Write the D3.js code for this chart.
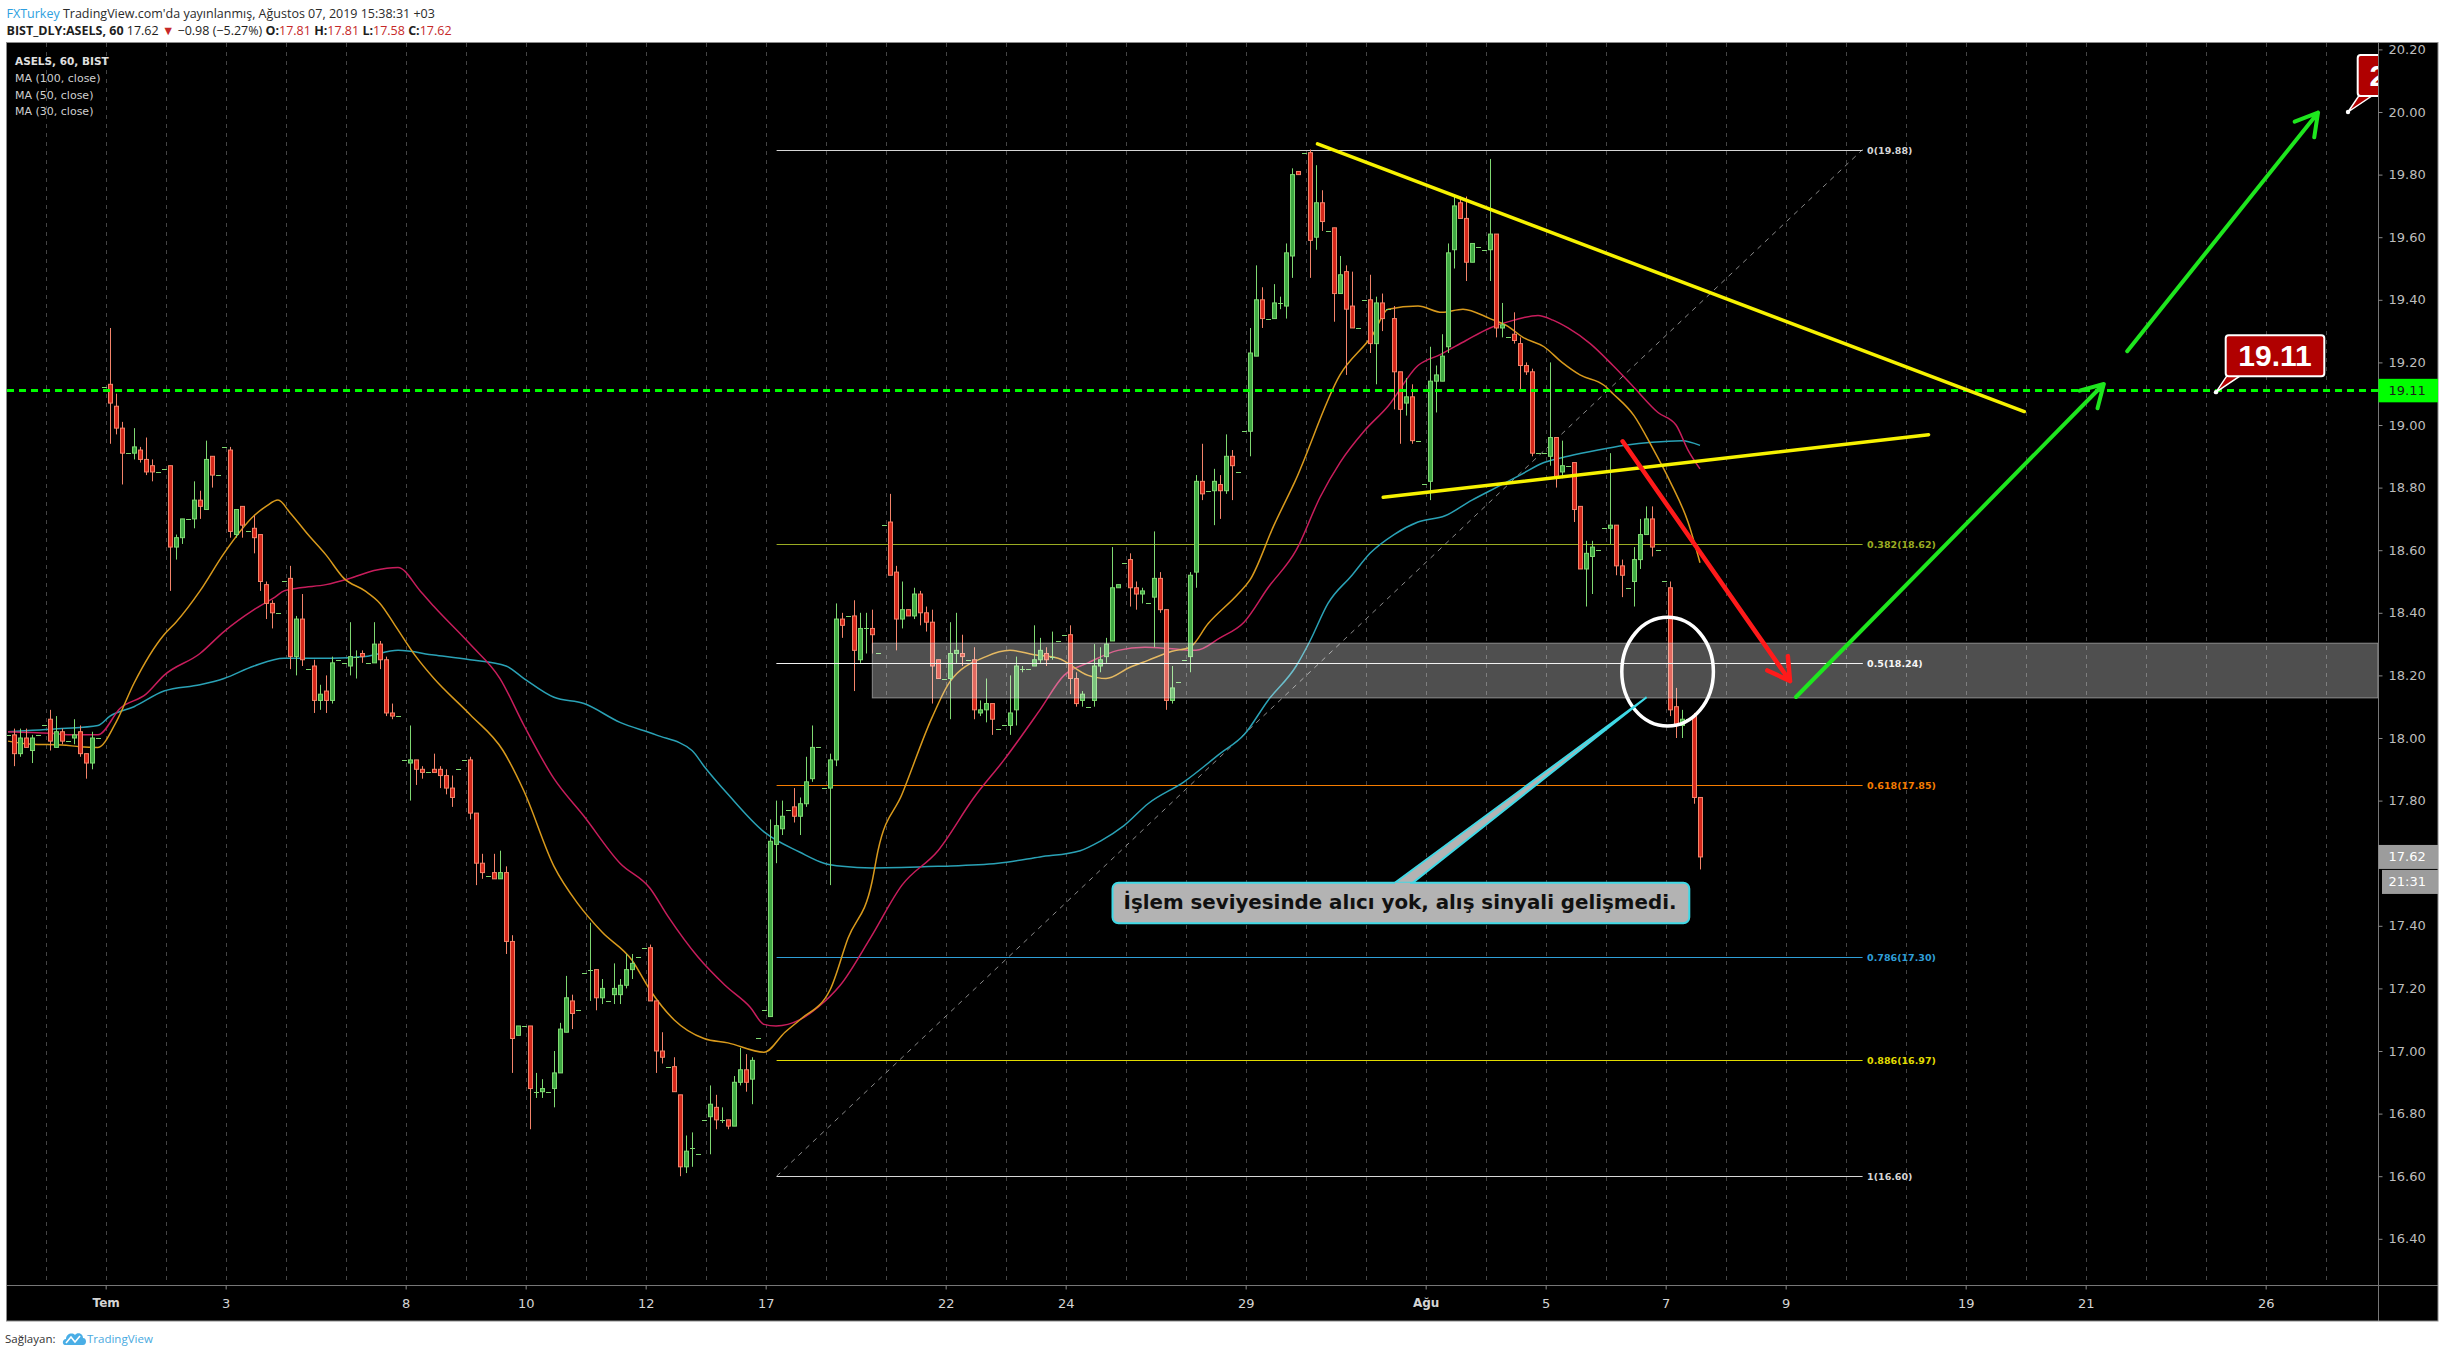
<!DOCTYPE html>
<html>
<head>
<meta charset="utf-8">
<title>ASELS, 60, BIST</title>
<script src="https://cdn.jsdelivr.net/npm/d3@7/dist/d3.min.js"></script>
<style>
  html, body { margin: 0; padding: 0; background: #fff; }
  svg { display: block; }
</style>
</head>
<body>
<svg id="chart" width="2445" height="1358"></svg>
<script>
// ---------------------------------------------------------------
// data (hourly bars, [open, high, low, close])
// ---------------------------------------------------------------
var firstDayBar = -3;     // bar index where the first (partial) day starts
var barsPerDay = 10;

var bars = [
	// Jun 27 (last bars)
	[18.01,18.01,18.01,18.01],[18.01,18.03,17.91,17.95],[17.95,18.03,17.94,18.00],[18.00,18.03,17.97,17.97],[17.96,18.01,17.92,18.00],[18.01,18.01,18.01,18.01],[18.04,18.04,18.04,18.04],
	// Jun 28
	[18.06,18.09,17.96,17.99],[17.97,18.07,17.97,18.02],[18.02,18.03,17.98,17.99],[17.99,17.99,17.99,17.99],[18.00,18.06,17.98,18.01],[18.02,18.04,17.94,17.95],[17.95,17.95,17.87,17.92],[17.92,18.02,17.90,18.00],[18.00,18.00,18.00,18.00],[19.12,19.12,19.12,19.12],
	// Jul 1
	[19.13,19.31,18.94,19.07],[19.06,19.10,18.97,18.99],[18.99,19.01,18.81,18.91],[18.91,18.91,18.91,18.91],[18.91,18.99,18.89,18.93],[18.92,18.93,18.88,18.89],[18.89,18.96,18.84,18.85],[18.87,18.89,18.82,18.85],[18.85,18.85,18.85,18.85],[18.86,18.86,18.86,18.86],
	// Jul 2
	[18.87,18.87,18.47,18.61],[18.61,18.65,18.57,18.64],[18.64,18.70,18.62,18.70],[18.70,18.70,18.70,18.70],[18.70,18.82,18.67,18.76],[18.76,18.79,18.70,18.74],[18.73,18.95,18.73,18.89],[18.90,18.90,18.80,18.84],[18.84,18.84,18.84,18.84],[18.93,18.93,18.93,18.93],
	// Jul 3
	[18.92,18.93,18.64,18.66],[18.65,18.73,18.64,18.73],[18.74,18.74,18.64,18.68],[18.66,18.66,18.66,18.66],[18.67,18.71,18.59,18.64],[18.65,18.65,18.47,18.50],[18.49,18.50,18.38,18.43],[18.43,18.44,18.35,18.40],[18.40,18.40,18.40,18.40],[18.50,18.50,18.50,18.50],
	// Jul 4
	[18.51,18.55,18.22,18.26],[18.26,18.39,18.20,18.38],[18.38,18.46,18.23,18.25],[18.22,18.22,18.22,18.22],[18.23,18.25,18.08,18.12],[18.12,18.17,18.09,18.14],[18.15,18.20,18.08,18.12],[18.12,18.26,18.11,18.24],[18.25,18.25,18.25,18.25],[18.24,18.24,18.24,18.24],
	// Jul 5
	[18.23,18.37,18.20,18.26],[18.26,18.28,18.19,18.26],[18.27,18.28,18.24,18.26],[18.24,18.24,18.24,18.24],[18.24,18.37,18.24,18.30],[18.30,18.31,18.22,18.25],[18.25,18.26,18.07,18.08],[18.08,18.11,18.06,18.07],[18.07,18.07,18.07,18.07],[17.93,17.93,17.93,17.93],
	// Jul 8
	[17.92,18.04,17.80,17.93],[17.93,17.93,17.85,17.90],[17.90,17.91,17.87,17.89],[17.89,17.89,17.89,17.89],[17.90,17.95,17.89,17.89],[17.90,17.91,17.84,17.88],[17.88,17.90,17.82,17.84],[17.84,17.88,17.78,17.81],[17.90,17.90,17.90,17.90],[17.93,17.93,17.93,17.93],
	// Jul 9
	[17.93,17.94,17.74,17.76],[17.76,17.76,17.53,17.60],[17.60,17.63,17.55,17.57],[17.56,17.56,17.56,17.56],[17.57,17.63,17.55,17.55],[17.55,17.64,17.55,17.57],[17.57,17.59,17.31,17.35],[17.35,17.37,16.93,17.04],[17.05,17.08,17.05,17.08],[17.08,17.08,17.08,17.08],
	// Jul 10
	[17.08,17.08,16.75,16.88],[16.87,16.93,16.85,16.87],[16.87,16.91,16.85,16.88],[16.87,16.87,16.87,16.87],[16.88,17.00,16.82,16.93],[16.93,17.09,16.93,17.07],[17.06,17.24,17.06,17.17],[17.16,17.18,17.07,17.12],[17.13,17.13,17.13,17.13],[17.25,17.25,17.25,17.25],
	// Jul 11
	[17.26,17.41,17.16,17.26],[17.26,17.26,17.13,17.17],[17.17,17.23,17.15,17.20],[17.16,17.16,17.16,17.16],[17.18,17.28,17.15,17.20],[17.18,17.23,17.15,17.21],[17.21,17.31,17.20,17.26],[17.26,17.31,17.23,17.28],[17.30,17.30,17.30,17.30],[17.33,17.33,17.33,17.33],
	// Jul 12
	[17.33,17.34,17.16,17.16],[17.16,17.16,16.93,17.00],[17.00,17.06,16.96,16.98],[16.95,16.95,16.95,16.95],[16.95,16.98,16.87,16.87],[16.86,16.86,16.60,16.63],[16.63,16.73,16.61,16.68],[16.69,16.74,16.63,16.69],[16.67,16.67,16.67,16.67],[16.78,16.78,16.78,16.78],
	// Jul 16
	[16.79,16.89,16.67,16.83],[16.82,16.86,16.75,16.78],[16.78,16.82,16.77,16.78],[16.78,16.78,16.75,16.76],[16.76,16.92,16.76,16.90],[16.90,17.01,16.89,16.94],[16.94,16.99,16.87,16.90],[16.91,16.98,16.83,16.97],[17.04,17.04,17.04,17.04],[17.13,17.13,17.13,17.13],
	// Jul 17
	[17.11,17.74,17.11,17.67],[17.66,17.80,17.60,17.72],[17.71,17.80,17.69,17.75],[17.77,17.77,17.77,17.77],[17.78,17.84,17.73,17.75],[17.75,17.81,17.69,17.79],[17.79,17.94,17.78,17.86],[17.87,18.04,17.86,17.97],[17.97,17.97,17.97,17.97],[17.84,17.84,17.84,17.84],
	// Jul 18
	[17.84,17.95,17.53,17.93],[17.93,18.43,17.91,18.38],[18.38,18.40,18.32,18.36],[18.39,18.39,18.39,18.39],[18.39,18.44,18.15,18.28],[18.25,18.40,18.24,18.35],[18.35,18.40,18.27,18.35],[18.35,18.41,18.27,18.33],[18.27,18.27,18.27,18.27],[18.68,18.68,18.68,18.68],
	// Jul 19
	[18.69,18.78,18.52,18.52],[18.53,18.55,18.28,18.38],[18.38,18.50,18.35,18.41],[18.41,18.41,18.39,18.39],[18.39,18.48,18.38,18.46],[18.46,18.47,18.36,18.40],[18.40,18.42,18.34,18.37],[18.37,18.41,18.11,18.23],[18.25,18.25,18.19,18.19],[18.19,18.19,18.19,18.19],
	// Jul 22
	[18.19,18.37,18.06,18.27],[18.27,18.40,18.24,18.28],[18.27,18.33,18.23,18.26],[18.25,18.25,18.25,18.25],[18.25,18.29,18.06,18.09],[18.08,18.12,18.07,18.09],[18.09,18.19,18.05,18.11],[18.11,18.11,18.01,18.06],[18.03,18.03,18.03,18.03],[18.04,18.04,18.04,18.04],
	// Jul 23
	[18.04,18.20,18.01,18.08],[18.09,18.26,18.04,18.23],[18.22,18.23,18.21,18.22],[18.22,18.22,18.22,18.22],[18.23,18.36,18.23,18.25],[18.25,18.32,18.24,18.28],[18.27,18.29,18.23,18.25],[18.26,18.34,18.25,18.26],[18.31,18.31,18.31,18.31],[18.33,18.33,18.33,18.33],
	// Jul 24
	[18.33,18.36,18.14,18.19],[18.19,18.21,18.10,18.11],[18.12,18.15,18.10,18.14],[18.10,18.10,18.10,18.10],[18.12,18.30,18.10,18.23],[18.23,18.29,18.21,18.25],[18.26,18.32,18.24,18.30],[18.31,18.61,18.31,18.48],[18.48,18.49,18.48,18.49],[18.56,18.56,18.56,18.56],
	// Jul 25
	[18.57,18.59,18.42,18.48],[18.48,18.50,18.41,18.46],[18.46,18.48,18.43,18.47],[18.43,18.43,18.43,18.43],[18.45,18.66,18.29,18.51],[18.51,18.53,18.40,18.41],[18.41,18.41,18.09,18.12],[18.12,18.23,18.11,18.16],[18.18,18.18,18.18,18.18],[18.25,18.25,18.25,18.25],
	// Jul 26
	[18.26,18.53,18.21,18.52],[18.53,18.84,18.48,18.82],[18.82,18.94,18.76,18.78],[18.79,18.79,18.79,18.79],[18.79,18.86,18.68,18.82],[18.81,18.84,18.70,18.79],[18.79,18.97,18.78,18.90],[18.90,18.92,18.76,18.87],[18.85,18.85,18.85,18.85],[18.98,18.98,18.98,18.98],
	// Jul 29
	[18.98,19.31,18.90,19.23],[19.22,19.51,19.22,19.40],[19.40,19.44,19.31,19.34],[19.34,19.34,19.34,19.34],[19.34,19.45,19.34,19.39],[19.39,19.41,19.37,19.39],[19.38,19.58,19.34,19.55],[19.54,19.82,19.47,19.80],[19.81,19.81,19.80,19.80],[19.87,19.87,19.87,19.87],
	// Jul 30
	[19.87,19.88,19.47,19.59],[19.60,19.83,19.56,19.71],[19.71,19.75,19.62,19.65],[19.62,19.62,19.62,19.62],[19.63,19.63,19.33,19.42],[19.42,19.54,19.42,19.48],[19.49,19.51,19.16,19.37],[19.38,19.49,19.31,19.31],[19.31,19.31,19.31,19.31],[19.40,19.40,19.40,19.40],
	// Jul 31
	[19.40,19.48,19.23,19.26],[19.26,19.41,19.13,19.39],[19.39,19.42,19.30,19.34],[19.37,19.37,19.37,19.37],[19.34,19.38,19.05,19.17],[19.17,19.17,18.94,19.05],[19.07,19.15,19.03,19.09],[19.09,19.13,18.94,18.95],[18.95,18.95,18.95,18.95],[18.81,18.81,18.81,18.81],
	// Aug 1
	[18.82,19.25,18.76,19.14],[19.14,19.19,19.04,19.16],[19.14,19.29,19.14,19.22],[19.25,19.58,19.23,19.55],[19.56,19.73,19.50,19.70],[19.71,19.73,19.66,19.66],[19.66,19.73,19.46,19.52],[19.52,19.58,19.52,19.58],[19.57,19.57,19.57,19.57],[19.56,19.56,19.56,19.56],
	// Aug 2
	[19.56,19.85,19.46,19.61],[19.61,19.61,19.28,19.31],[19.31,19.39,19.28,19.32],[19.28,19.28,19.28,19.28],[19.29,19.36,19.26,19.27],[19.26,19.28,19.11,19.19],[19.19,19.20,19.16,19.17],[19.17,19.18,18.90,18.91],[18.91,18.91,18.91,18.91],[18.91,18.91,18.91,18.91],
	// Aug 5
	[18.90,19.20,18.87,18.96],[18.96,18.96,18.80,18.83],[18.85,18.95,18.83,18.87],[18.87,18.87,18.87,18.87],[18.88,18.88,18.69,18.73],[18.74,18.74,18.54,18.54],[18.54,18.63,18.42,18.59],[18.58,18.63,18.46,18.61],[18.60,18.60,18.60,18.60],[18.67,18.67,18.67,18.67],
	// Aug 6
	[18.67,18.91,18.62,18.68],[18.68,18.68,18.52,18.55],[18.55,18.57,18.45,18.52],[18.48,18.48,18.48,18.48],[18.50,18.61,18.42,18.57],[18.57,18.70,18.54,18.65],[18.65,18.74,18.65,18.70],[18.70,18.74,18.58,18.61],[18.60,18.60,18.60,18.60],[18.50,18.50,18.50,18.50],
	// Aug 7
	[18.48,18.50,18.07,18.09],[18.10,18.16,18.00,18.04],[18.04,18.09,18.00,18.06],[18.06,18.06,18.06,18.06],[18.07,18.08,17.79,17.81],[17.81,17.81,17.58,17.62]
];

// moving averages: [bar index, value]
var ma100 = [[0,18.02],[9,18.03],[15,18.04],[17,18.07],[21,18.10],[26,18.15],[32,18.17],[36,18.19],[41,18.23],[46,18.255],[54,18.255],[59.5,18.26],[65,18.28],[71,18.265],[77,18.25],[83,18.23],[86,18.19],[91,18.13],[96,18.11],[102,18.05],[108,18.01],[114,17.96],[116,17.91],[120,17.82],[126,17.70],[132,17.635],[136,17.60],[139,17.59],[144,17.585],[155,17.59],[165,17.60],[172,17.62],[178.7,17.64],[182,17.67],[186,17.72],[190,17.79],[196,17.86],[202,17.95],[206,18.01],[210,18.12],[214.7,18.23],[217,18.31],[220,18.43],[224,18.52],[227,18.59],[231,18.65],[235,18.69],[239.5,18.71],[244,18.76],[248,18.80],[252,18.84],[256,18.88],[260,18.90],[265,18.92],[269.5,18.935],[274,18.945],[279,18.95],[282,18.935]];
var ma50 = [[0,18.02],[7,18.015],[11,18.01],[15,18.01],[18.7,18.095],[23,18.14],[26,18.20],[32,18.27],[36,18.34],[41,18.41],[44.5,18.45],[46,18.47],[48.7,18.48],[53,18.49],[57,18.51],[61,18.535],[65,18.545],[68.7,18.47],[71,18.42],[77,18.30],[82,18.19],[86,18.04],[91,17.87],[96,17.75],[102,17.60],[107,17.52],[110,17.43],[115,17.30],[119.5,17.21],[123.7,17.14],[126,17.085],[128,17.08],[132,17.10],[135,17.14],[138.7,17.21],[143.7,17.36],[149,17.53],[155,17.64],[161,17.81],[166,17.93],[172,18.09],[176,18.20],[180,18.24],[185,18.28],[189.5,18.29],[194,18.285],[198,18.28],[202,18.32],[206,18.37],[210,18.48],[214.7,18.60],[218.7,18.77],[222,18.88],[226,18.98],[230,19.06],[235,19.19],[238.7,19.225],[243,19.27],[247,19.31],[251,19.335],[255,19.35],[257.5,19.335],[260,19.31],[263.7,19.26],[267.5,19.19],[271,19.12],[275,19.04],[278,19.00],[280,18.92],[282,18.86]];
var ma30 = [[0,17.99],[4,17.98],[9,17.978],[12,17.972],[15,17.97],[18,18.05],[21,18.175],[26,18.33],[28,18.37],[32,18.47],[36,18.59],[41,18.71],[43,18.74],[45,18.76],[47,18.72],[50,18.65],[53,18.585],[56,18.51],[59.5,18.47],[62,18.43],[64.5,18.36],[68,18.26],[71,18.19],[77,18.075],[82.5,17.96],[86,17.83],[91,17.59],[95,17.47],[99,17.38],[104,17.29],[107,17.195],[111,17.10],[116,17.04],[120,17.026],[126,16.996],[129.5,17.06],[132,17.10],[137,17.195],[140,17.36],[144,17.54],[145,17.64],[149,17.82],[154,18.065],[157,18.18],[163,18.26],[167,18.28],[171,18.266],[175,18.255],[180,18.20],[183,18.19],[187,18.226],[190,18.248],[194,18.277],[197,18.29],[200,18.365],[205,18.46],[207,18.505],[211,18.68],[214.5,18.82],[222,19.16],[227.5,19.29],[230,19.37],[235,19.38],[239,19.36],[242.5,19.37],[247,19.34],[250,19.315],[252.5,19.28],[256,19.25],[259,19.20],[262,19.16],[266,19.127],[267.5,19.10],[271,19.03],[274,18.93],[277,18.82],[280,18.69],[282,18.56]];

// x axis tick labels (bar index of the day start)
var tickBars = [17, 37, 67, 87, 107, 127, 157, 177, 207, 237, 257, 277, 297, 327, 347, 377];
var tickLabels = ["Tem", "3", "8", "10", "12", "17", "22", "24", "29", "Ağu", "5", "7", "9", "19", "21", "26"];
var monthLabels = ["Tem", "Ağu"];

// y axis tick labels
var priceTicks = d3.range(82, 102).map(function (v) { return v / 5; });

// fibonacci retracement
var fibLevels = [0, 0.382, 0.5, 0.618, 0.786, 0.886, 1];
var fibPrices = [19.88, 18.62, 18.24, 17.85, 17.30, 16.97, 16.60];
var fibColors = ["#d6d6d6", "#9aab22", "#f2f2f2", "#f57c00", "#2f9fd8", "#e2dc00", "#d6d6d6"];
var fibSpan = [128.1, 309.1];

// drawings
var resistance = 19.11;
var lastPrice = 17.62;
var zoneBand = [144.05, 18.128, 18.303];
var wedgeUpper = [[218.25, 19.898], [336.05, 19.043]];
var wedgeLower = [[229.2, 18.769], [320.1, 18.969]];
var downArrow = [[269.1, 18.948], [297.0, 18.182]];
var upArrowNear = [[298.0, 18.131], [349.3, 19.131]];
var upArrowFar = [[353.2, 19.236], [385.0, 19.998]];
var circleMark = [276.6, 18.212];
var priceTags = [[368, 19.105, "19.11"], [390, 20.0, "20.00"]];
var noteTip = [273.1, 18.13];
var noteText = "İşlem seviyesinde alıcı yok, alış sinyali gelişmedi.";

// ---------------------------------------------------------------
// layout
// ---------------------------------------------------------------
var frame = {left: 7, right: 2378, top: 43, bottom: 1285, outerRight: 2438, outerBottom: 1321};
var dayShift = -0.72;   // day separator sits a little before the first bar

var x = d3.scaleLinear().domain([0, 1]).range([8, 14]);
var y = d3.scaleLinear().domain([16.4, 20]).range([1238.8, 112]);

var upFill = "#3fa843", upLine = "#7fd972", downFill = "#d6281b", downLine = "#f4846a";

var svg = d3.select("#chart");

// chart background
svg.append("rect")
	.attr("x", frame.left - 1).attr("y", frame.top)
	.attr("width", frame.outerRight - frame.left + 1)
	.attr("height", frame.outerBottom - frame.top)
	.attr("fill", "#000");

svg.append("defs").append("clipPath").attr("id", "plotClip")
	.append("rect")
	.attr("x", frame.left).attr("y", frame.top)
	.attr("width", frame.right - frame.left)
	.attr("height", frame.bottom - frame.top);

var plot = svg.append("g").attr("clip-path", "url(#plotClip)");

// vertical day grid
var gridBars = d3.range(firstDayBar, 400, barsPerDay);
plot.append("g").selectAll("line")
	.data(gridBars)
	.enter().append("line")
	.attr("x1", function (d) { return Math.round(x(d + dayShift)) + 0.5; })
	.attr("x2", function (d) { return Math.round(x(d + dayShift)) + 0.5; })
	.attr("y1", frame.top).attr("y2", frame.bottom)
	.attr("stroke", "#444").attr("stroke-width", 1)
	.attr("stroke-dasharray", "4,5");

// fib trend line + levels
plot.append("line")
	.attr("x1", x(fibSpan[0])).attr("y1", y(fibPrices[6]))
	.attr("x2", x(fibSpan[1])).attr("y2", y(fibPrices[0]))
	.attr("stroke", "#8a8a8a").attr("stroke-width", 1)
	.attr("stroke-dasharray", "5,5");

var fib = plot.append("g");
fibLevels.forEach(function (lvl, i) {
	var yy = Math.round(y(fibPrices[i])) + 0.5;
	fib.append("line")
		.attr("x1", x(fibSpan[0])).attr("x2", x(fibSpan[1]))
		.attr("y1", yy).attr("y2", yy)
		.attr("stroke", fibColors[i]).attr("stroke-width", 1);
	fib.append("text")
		.attr("x", x(fibSpan[1]) + 4.5).attr("y", yy)
		.attr("dy", "0.35em")
		.attr("fill", fibColors[i])
		.style("font", "bold 9.5px 'DejaVu Sans', sans-serif")
		.text(lvl + "(" + fibPrices[i].toFixed(2) + ")");
});

// moving averages
var maLine = d3.line()
	.x(function (d) { return x(d[0]); })
	.y(function (d) { return y(d[1]); })
	.curve(d3.curveMonotoneX);

[[ma100, "#2aa2b6"], [ma50, "#c81d5c"], [ma30, "#d99a1c"]].forEach(function (m) {
	plot.append("path")
		.datum(m[0])
		.attr("d", maLine)
		.attr("fill", "none")
		.attr("stroke", m[1])
		.attr("stroke-width", 1.5);
});

// candles
var candle = plot.append("g").selectAll("g")
	.data(bars)
	.enter().append("g");

candle.append("line")
	.attr("x1", function (d, i) { return x(i) + 0.5; })
	.attr("x2", function (d, i) { return x(i) + 0.5; })
	.attr("y1", function (d) { return y(d[1]); })
	.attr("y2", function (d) { return y(d[2]); })
	.attr("stroke", function (d) { return d[3] >= d[0] ? upLine : downLine; })
	.attr("stroke-width", 1);

candle.append("rect")
	.attr("x", function (d, i) { return d[0] === d[3] ? x(i) - 2 : x(i) - 1.5; })
	.attr("y", function (d) {
		return d[0] === d[3] ? Math.round(y(d[0])) : y(Math.max(d[0], d[3]));
	})
	.attr("width", function (d) { return d[0] === d[3] ? 5 : 4; })
	.attr("height", function (d) {
		return d[0] === d[3] ? 1 : Math.max(1, Math.abs(y(d[0]) - y(d[3])));
	})
	.attr("fill", function (d) {
		if (d[0] === d[3]) return upLine;
		return d[3] > d[0] ? upFill : downFill;
	})
	.attr("stroke", function (d) {
		if (d[0] === d[3]) return "none";
		return d[3] > d[0] ? upLine : downLine;
	})
	.attr("stroke-width", 1);

// grey zone over the candles
plot.append("rect")
	.attr("x", x(zoneBand[0]))
	.attr("y", y(zoneBand[2]))
	.attr("width", frame.right - x(zoneBand[0]))
	.attr("height", y(zoneBand[1]) - y(zoneBand[2]))
	.attr("fill", "rgba(255,255,255,0.31)")
	.attr("stroke", "rgba(210,210,210,0.55)")
	.attr("stroke-width", 1);

// 0.5 level stays bright on top of the zone
plot.append("line")
	.attr("x1", x(fibSpan[0])).attr("x2", x(fibSpan[1]))
	.attr("y1", Math.round(y(fibPrices[2])) + 0.5).attr("y2", Math.round(y(fibPrices[2])) + 0.5)
	.attr("stroke", fibColors[2]).attr("stroke-width", 1);

// resistance line
plot.append("line")
	.attr("x1", frame.left).attr("x2", frame.right)
	.attr("y1", y(resistance)).attr("y2", y(resistance))
	.attr("stroke", "#00ff00").attr("stroke-width", 3)
	.attr("stroke-dasharray", "7,5");

// wedge lines
[wedgeUpper, wedgeLower].forEach(function (seg) {
	plot.append("line")
		.attr("x1", x(seg[0][0])).attr("y1", y(seg[0][1]))
		.attr("x2", x(seg[1][0])).attr("y2", y(seg[1][1]))
		.attr("stroke", "#f7f200").attr("stroke-width", 3.5)
		.attr("stroke-linecap", "round");
});

/**
 * Draws a straight arrow with an open head
 */
function drawArrow(g, seg, color, width) {
	var x0 = x(seg[0][0]), y0 = y(seg[0][1]);
	var x1 = x(seg[1][0]), y1 = y(seg[1][1]);
	var back = Math.atan2(y0 - y1, x0 - x1);
	var len = 25, spread = Math.PI / 6;
	var path = d3.path();
	path.moveTo(x0, y0);
	path.lineTo(x1, y1);
	path.moveTo(x1 + len * Math.cos(back + spread), y1 + len * Math.sin(back + spread));
	path.lineTo(x1, y1);
	path.lineTo(x1 + len * Math.cos(back - spread), y1 + len * Math.sin(back - spread));
	g.append("path")
		.attr("d", path.toString())
		.attr("fill", "none")
		.attr("stroke", color)
		.attr("stroke-width", width)
		.attr("stroke-linecap", "round")
		.attr("stroke-linejoin", "round");
}

drawArrow(plot, downArrow, "#ff1a1a", 4.5);
drawArrow(plot, upArrowNear, "#1ee61e", 4);
drawArrow(plot, upArrowFar, "#1ee61e", 4);

// circle around the breakdown
plot.append("ellipse")
	.attr("cx", x(circleMark[0])).attr("cy", y(circleMark[1]))
	.attr("rx", 45.8).attr("ry", 54.3)
	.attr("fill", "none")
	.attr("stroke", "#fff").attr("stroke-width", 3.5);

// red price tags
priceTags.forEach(function (t) {
	var ax = x(t[0]), ay = y(t[1]);
	var bx = ax + 9.7, by = ay - 57, bw = 98.6, bh = 41;
	var tag = plot.append("g");
	tag.append("path")
		.attr("d", "M" + ax + "," + ay + "L" + (bx + 1) + "," + (by + bh) + "L" + (bx + 14) + "," + (by + bh) + "Z")
		.attr("fill", "#b00000").attr("stroke", "#fff").attr("stroke-width", 1.5);
	tag.append("rect")
		.attr("x", bx).attr("y", by).attr("width", bw).attr("height", bh)
		.attr("rx", 3)
		.attr("fill", "#b00000").attr("stroke", "#fff").attr("stroke-width", 2);
	tag.append("text")
		.attr("x", bx + bw / 2).attr("y", by + bh / 2)
		.attr("dy", "0.36em")
		.attr("text-anchor", "middle")
		.attr("fill", "#fff")
		.style("font", "bold 30px 'Liberation Sans', Arial, sans-serif")
		.text(t[2]);
	tag.append("circle")
		.attr("cx", ax).attr("cy", ay).attr("r", 2.2)
		.attr("fill", "#fff");
});

// note callout
var tipX = x(noteTip[0]), tipY = y(noteTip[1]);
var noteBox = {x: tipX - 534.1, y: tipY + 185.4, w: 576.8, h: 40.6};
plot.append("path")
	.attr("d", "M" + (noteBox.x + 281) + "," + (noteBox.y + 1) + "L" + tipX + "," + tipY + "L" + (noteBox.x + 299) + "," + (noteBox.y + 1) + "Z")
	.attr("fill", "#b3b3b3").attr("stroke", "#3fd9e6").attr("stroke-width", 2);
plot.append("rect")
	.attr("x", noteBox.x).attr("y", noteBox.y)
	.attr("width", noteBox.w).attr("height", noteBox.h)
	.attr("rx", 6)
	.attr("fill", "#b3b3b3").attr("stroke", "#3fd9e6").attr("stroke-width", 2);
plot.append("path")
	.attr("d", "M" + (noteBox.x + 282.5) + "," + (noteBox.y + 1.5) + "L" + (noteBox.x + 297.5) + "," + (noteBox.y + 1.5))
	.attr("stroke", "#b3b3b3").attr("stroke-width", 3);
plot.append("text")
	.attr("x", noteBox.x + 11).attr("y", noteBox.y + 26.5)
	.attr("textLength", 553).attr("lengthAdjust", "spacingAndGlyphs")
	.attr("fill", "#111")
	.style("font", "bold 19px 'DejaVu Sans', sans-serif")
	.text(noteText);

// legend
var legend = svg.append("g").style("font-family", "'DejaVu Sans', sans-serif");
legend.append("text").attr("x", 15).attr("y", 65)
	.attr("fill", "#e0e0e0").style("font-weight", "bold").style("font-size", "10.5px")
	.text("ASELS, 60, BIST");
["MA (100, close)", "MA (50, close)", "MA (30, close)"].forEach(function (s, i) {
	legend.append("text").attr("x", 15).attr("y", 82 + i * 16.7)
		.attr("fill", "#cfcfcf").style("font-size", "11px")
		.text(s);
});

// ---------------------------------------------------------------
// axes
// ---------------------------------------------------------------
svg.append("line")
	.attr("x1", frame.right + 0.5).attr("x2", frame.right + 0.5)
	.attr("y1", frame.top).attr("y2", frame.outerBottom)
	.attr("stroke", "#777");
svg.append("line")
	.attr("x1", frame.left - 1).attr("x2", frame.outerRight)
	.attr("y1", frame.bottom + 0.5).attr("y2", frame.bottom + 0.5)
	.attr("stroke", "#777");
svg.append("rect")
	.attr("x", frame.left - 0.5).attr("y", frame.top - 0.5)
	.attr("width", frame.outerRight - frame.left + 0.5)
	.attr("height", frame.outerBottom - frame.top + 0.5)
	.attr("fill", "none").attr("stroke", "#8c8c8c");

// a tick label hidden behind the last-price box is left out, as on the original
var shownTicks = priceTicks.filter(function (p) {
	return Math.abs(y(p) - y(lastPrice)) > 20;
});

var yAxis = svg.append("g")
	.attr("transform", "translate(" + (frame.right + 0.5) + ",0)")
	.call(d3.axisRight(y)
		.tickValues(shownTicks)
		.tickFormat(d3.format(".2f"))
		.tickSize(4)
		.tickPadding(6));
yAxis.select(".domain").remove();
yAxis.selectAll(".tick line").attr("stroke", "#888");
yAxis.selectAll(".tick text")
	.attr("fill", "#bdbdbd")
	.style("font", "13px 'DejaVu Sans', sans-serif");

var xAxis = svg.append("g")
	.attr("transform", "translate(0," + (frame.bottom + 0.5) + ")")
	.call(d3.axisBottom(x)
		.tickValues(tickBars.map(function (b) { return b + dayShift; }))
		.tickFormat(function (d, i) { return tickLabels[i]; })
		.tickSize(4)
		.tickPadding(9));
xAxis.select(".domain").remove();
xAxis.selectAll(".tick line").attr("stroke", "#888");
xAxis.selectAll(".tick text")
	.attr("fill", "#d4d4d4")
	.style("font", "13px 'DejaVu Sans', sans-serif")
	.filter(function (d, i) { return monthLabels.indexOf(tickLabels[i]) >= 0; })
	.style("font-weight", "bold")
	.style("font-size", "12px");

// price boxes on the right axis
function axisBox(top, height, left, fill, color, label) {
	svg.append("rect")
		.attr("x", left).attr("y", top)
		.attr("width", frame.outerRight - left).attr("height", height)
		.attr("fill", fill);
	svg.append("text")
		.attr("x", frame.right + 10.5).attr("y", top + height / 2)
		.attr("dy", "0.35em")
		.attr("fill", color)
		.style("font", "13px 'DejaVu Sans', sans-serif")
		.text(label);
}
axisBox(y(resistance) - 11.75, 23.5, frame.right + 0.5, "#00ff00", "#1c1c1c", resistance.toFixed(2));
axisBox(y(lastPrice) - 12, 24, frame.right + 0.5, "#9c9c9c", "#fff", lastPrice.toFixed(2));
axisBox(y(lastPrice) + 13, 24, frame.right + 4, "#9c9c9c", "#fff", "21:31");

// ---------------------------------------------------------------
// header and footer
// ---------------------------------------------------------------
var head = svg.append("g").style("font-family", "'Open Sans', sans-serif").style("font-size", "12.5px");
var h1 = head.append("text").attr("x", 6.5).attr("y", 17.5).attr("fill", "#2b2b2b");
h1.append("tspan").attr("fill", "#2e9fe0").text("FXTurkey");
h1.append("tspan").text(" TradingView.com'da yayınlanmış, Ağustos 07, 2019 15:38:31 +03");

var h2 = head.append("text").attr("x", 6.5).attr("y", 35).attr("fill", "#1e1e1e");
var red = "#c62828";
[["BIST_DLY:ASELS, 60", "bold", null], [" 17.62 ", null, null], ["▼", null, red], [" −0.98 (−5.27%) ", null, null],
 ["O:", "bold", null], ["17.81", null, red], [" H:", "bold", null], ["17.81", null, red],
 [" L:", "bold", null], ["17.58", null, red], [" C:", "bold", null], ["17.62", null, red]].forEach(function (p) {
	var t = h2.append("tspan").text(p[0]);
	if (p[1]) t.style("font-weight", p[1]);
	if (p[2]) t.attr("fill", p[2]);
});

var foot = svg.append("g").style("font-family", "'Open Sans', sans-serif").style("font-size", "11.5px");
foot.append("text").attr("x", 5).attr("y", 1343).attr("fill", "#333").text("Sağlayan:");
var logo = foot.append("g").attr("transform", "translate(63,1331)");
logo.append("path")
	.attr("d", "M2,14 C-1,14 -1,8 3,8 C3,3 9,1 12,4 C14,1 20,2 20,7 C24,7 24,14 20,14 Z")
	.attr("fill", "#4aaee6");
logo.append("path")
	.attr("d", "M3,12 L8,6 L12,11 L17,5")
	.attr("fill", "none").attr("stroke", "#fff").attr("stroke-width", 1.6);
foot.append("text").attr("x", 87).attr("y", 1343).attr("fill", "#49a9e0").text("TradingView");
</script>
</body>
</html>
